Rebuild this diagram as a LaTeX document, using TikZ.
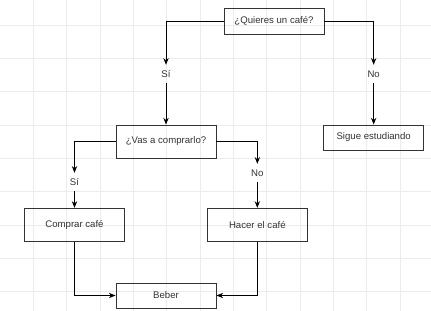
\documentclass[tikz,border=0pt]{standalone}
\usepackage{fontspec}
\setmainfont{Liberation Sans}
\usetikzlibrary{arrows.meta,positioning}
\definecolor{GridLine}{RGB}{236,236,236}
\definecolor{InkGray}{RGB}{51,51,51}

\begin{document}
\begin{tikzpicture}[
  font=\fontsize{8.2}{10}\selectfont,
  >={Stealth[length=2mm,width=1.6mm]},
  box/.style={draw=InkGray, line width=0.8pt, text=InkGray, inner sep=2pt,
              minimum width=3cm, minimum height=#1},
  box/.default=0.78cm,
  tag/.style={text=InkGray, minimum height=0.54cm, inner sep=1pt},
  arr/.style={->, line width=0.8pt},
]
  \useasboundingbox (0,0) rectangle (12.93,-9.33);

  % background grid
  \foreach \x in {1,...,12}
    \draw[GridLine, line width=0.5pt] (\x,0) -- (\x,-9.33);
  \foreach \y in {0.75,1.75,...,8.75}
    \draw[GridLine, line width=0.5pt] (0,-\y) -- (12.93,-\y);

  \node[box] (cafe) at (8.22,-0.63) {¿Quieres un café?};
  \node[box=0.99cm] (vas) at (4.98,-4.245) {¿Vas a comprarlo?};
  \node[box=0.75cm] (sigue) at (11.21,-4.125) {Sigue estudiando};
  \node[box=1cm] (comprar) at (2.235,-6.75) {Comprar café};
  \node[box=1cm] (hacer) at (7.72,-6.75) {Hacer el café};
  \node[box=0.75cm] (beber) at (4.98,-8.865) {Beber};

  % answers
  \node[tag] (si1) at (4.98,-2.22) {Sí};
  \node[tag] (no1) at (11.21,-2.22) {No};
  \node[tag] (si2) at (2.235,-5.46) {Sí};
  \node[tag] (no2) at (7.72,-5.19) {No};

  \draw[arr] (cafe.west) -| (si1.north);
  \draw[arr] (si1) -- (vas);
  \draw[arr] (cafe.east) -| (no1.north);
  \draw[arr] (no1) -- (sigue);
  \draw[arr] (vas.west) -| (si2.north);
  \draw[arr] (si2) -- (comprar);
  \draw[arr] (vas.east) -| (no2.north);
  \draw[arr] (no2) -- (hacer);
  \draw[arr] (comprar.south) |- (beber.west);
  \draw[arr] (hacer.south) |- (beber.east);
\end{tikzpicture}
\end{document}
